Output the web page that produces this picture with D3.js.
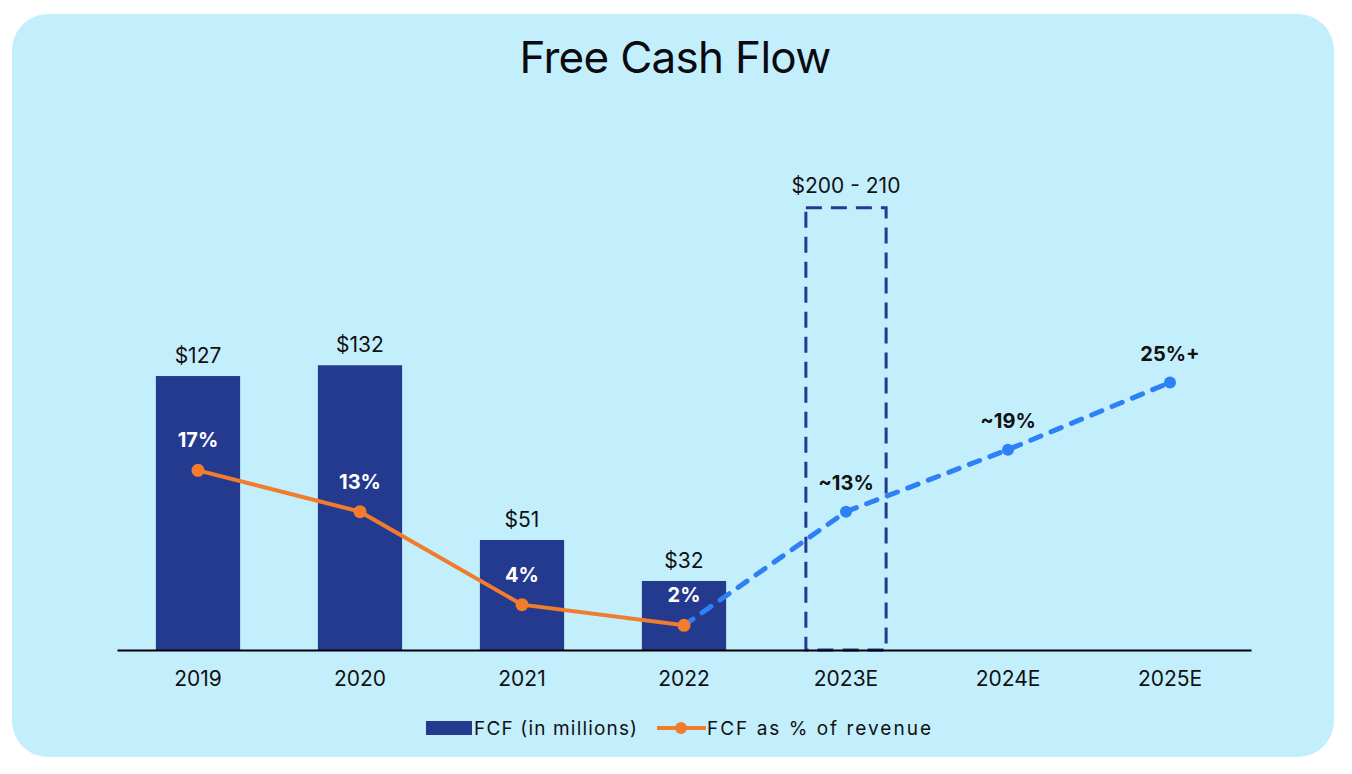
<!DOCTYPE html>
<html>
<head>
<meta charset="utf-8">
<script src="https://cdn.jsdelivr.net/npm/d3@7"></script>
<style>
  body { margin: 0; background: #ffffff; font-family: Inter, "Noto Sans", sans-serif; }
  #chart { width: 1352px; height: 774px; }
</style>
</head>
<body>
<div id="chart"></div>
<script>
// DATA

const years = ["2019", "2020", "2021", "2022", "2023E", "2024E", "2025E"];

const fcfYears = ["2019", "2020", "2021", "2022"];
const fcfValues = [127, 132, 51, 32];
const fcfLabels = ["$127", "$132", "$51", "$32"];

const guideYear = "2023E";
const guideRange = [200, 210];
const guideLabel = "$200 - 210";

const pctYears = ["2019", "2020", "2021", "2022"];
const pctValues = [17, 13, 4, 2];
const pctLabels = ["17%", "13%", "4%", "2%"];

const outlookYears = ["2022", "2023E", "2024E", "2025E"];
const outlookValues = [2, 13, 19, 25.5];
const outlookLabels = ["", "~13%", "~19%", "25%+"];

const legendItems = ["FCF (in millions)", "FCF as % of revenue"];

// COLORS

const navy = "#243a8f";
const orange = "#f07c2c";
const blue = "#2f7ff5";

// SVG CANVAS

const width = 1352;
const height = 774;
const margin = {top: 197, left: 117, right: 101, bottom: 124};

const svg = d3.select("#chart")
    .append("svg")
    .attr("width", width)
    .attr("height", height);

svg.append("rect")
    .attr("x", 12)
    .attr("y", 14)
    .attr("width", 1322)
    .attr("height", 743)
    .attr("rx", 36)
    .attr("fill", "#c3effd");

svg.append("text")
    .attr("x", 675)
    .attr("y", 73)
    .attr("text-anchor", "middle")
    .attr("font-size", 44)
    .attr("letter-spacing", -0.7)
    .attr("fill", "#0b0b0f")
    .text("Free Cash Flow");

// SCALES

const xScale = d3.scaleBand()
    .domain(years)
    .range([margin.left, width - margin.right])
    .paddingInner(0.48)
    .paddingOuter(0.24);

const yScale = d3.scaleLinear()
    .domain([0, 210])
    .range([height - margin.bottom, margin.top]);

const pScale = d3.scaleLinear()
    .domain([0, 30])
    .range([646, 336]);

const cx = function(d) { return xScale(d) + xScale.bandwidth() / 2; };

// BARS

const bars = fcfYears.map(function(y, i) { return {year: y, value: fcfValues[i], label: fcfLabels[i]}; });

svg.selectAll(".bar")
    .data(bars)
    .enter()
    .append("rect")
        .attr("class", "bar")
        .attr("x", function(d) { return xScale(d.year); })
        .attr("y", function(d) { return yScale(d.value); })
        .attr("width", xScale.bandwidth())
        .attr("height", function(d) { return yScale(0) - yScale(d.value); })
        .attr("fill", navy);

svg.selectAll(".barLabel")
    .data(bars)
    .enter()
    .append("text")
        .attr("class", "barLabel")
        .attr("x", function(d) { return cx(d.year); })
        .attr("y", function(d) { return yScale(d.value) - 13; })
        .attr("text-anchor", "middle")
        .attr("font-size", 21)
        .attr("fill", "#111")
        .text(function(d) { return d.label; });

// GUIDANCE BOX

const guideMid = (guideRange[0] + guideRange[1]) / 2;

svg.append("rect")
    .attr("x", xScale(guideYear) + 2)
    .attr("y", yScale(guideMid))
    .attr("width", xScale.bandwidth() - 4)
    .attr("height", yScale(0) - yScale(guideMid))
    .attr("fill", "none")
    .attr("stroke", navy)
    .attr("stroke-width", 3)
    .attr("stroke-dasharray", "16,9");

svg.append("text")
    .attr("x", cx(guideYear))
    .attr("y", yScale(guideMid) - 15)
    .attr("text-anchor", "middle")
    .attr("font-size", 21)
    .attr("fill", "#111")
    .text(guideLabel);

// AXIS

const xAxis = svg.append("g")
    .attr("transform", `translate(0,${yScale(0)})`)
    .call(d3.axisBottom(xScale).tickSize(0).tickPadding(21));

xAxis.select(".domain")
    .attr("stroke", "#000")
    .attr("stroke-width", 2);

xAxis.selectAll("text")
    .attr("font-family", "Inter, 'Noto Sans', sans-serif")
    .attr("font-size", 21)
    .attr("fill", "#111");

// OUTLOOK LINE (dashed)

const outlook = outlookYears.map(function(y, i) { return {year: y, value: outlookValues[i], label: outlookLabels[i]}; });

const line = d3.line()
    .x(function(d) { return cx(d.year); })
    .y(function(d) { return pScale(d.value); });

svg.append("path")
    .datum(outlook)
    .attr("d", line)
    .attr("fill", "none")
    .attr("stroke", blue)
    .attr("stroke-width", 5)
    .attr("stroke-linecap", "round")
    .attr("stroke-dasharray", "11,11");

svg.selectAll(".outDot")
    .data(outlook.slice(1))
    .enter()
    .append("circle")
        .attr("class", "outDot")
        .attr("cx", function(d) { return cx(d.year); })
        .attr("cy", function(d) { return pScale(d.value); })
        .attr("r", 6)
        .attr("fill", blue);

svg.selectAll(".outLabel")
    .data(outlook.slice(1))
    .enter()
    .append("text")
        .attr("class", "outLabel")
        .attr("x", function(d) { return cx(d.year); })
        .attr("y", function(d) { return pScale(d.value) - 22; })
        .attr("text-anchor", "middle")
        .attr("font-size", 20)
        .attr("font-weight", 700)
        .attr("fill", "#111")
        .text(function(d) { return d.label; });

// PERCENT LINE

const pct = pctYears.map(function(y, i) { return {year: y, value: pctValues[i], label: pctLabels[i]}; });

svg.append("path")
    .datum(pct)
    .attr("d", line)
    .attr("fill", "none")
    .attr("stroke", orange)
    .attr("stroke-width", 4);

svg.selectAll(".pctDot")
    .data(pct)
    .enter()
    .append("circle")
        .attr("class", "pctDot")
        .attr("cx", function(d) { return cx(d.year); })
        .attr("cy", function(d) { return pScale(d.value); })
        .attr("r", 6.5)
        .attr("fill", orange);

svg.selectAll(".pctLabel")
    .data(pct)
    .enter()
    .append("text")
        .attr("class", "pctLabel")
        .attr("x", function(d) { return cx(d.year); })
        .attr("y", function(d) { return pScale(d.value) - 23; })
        .attr("text-anchor", "middle")
        .attr("font-size", 20)
        .attr("font-weight", 700)
        .attr("fill", "#fff")
        .text(function(d) { return d.label; });

// LEGEND

const legend = svg.append("g");

legend.append("rect")
    .attr("x", 426)
    .attr("y", 721)
    .attr("width", 46)
    .attr("height", 14)
    .attr("fill", navy);

legend.append("text")
    .attr("x", 474)
    .attr("y", 735)
    .attr("font-size", 19)
    .attr("fill", "#111")
    .attr("textLength", 163)
    .attr("lengthAdjust", "spacing")
    .text(legendItems[0]);

legend.append("line")
    .attr("x1", 657)
    .attr("x2", 706)
    .attr("y1", 728)
    .attr("y2", 728)
    .attr("stroke", orange)
    .attr("stroke-width", 4);

legend.append("circle")
    .attr("cx", 681)
    .attr("cy", 728)
    .attr("r", 6)
    .attr("fill", orange);

legend.append("text")
    .attr("x", 707)
    .attr("y", 735)
    .attr("font-size", 19)
    .attr("fill", "#111")
    .attr("textLength", 224)
    .attr("lengthAdjust", "spacing")
    .text(legendItems[1]);
</script>
</body>
</html>
